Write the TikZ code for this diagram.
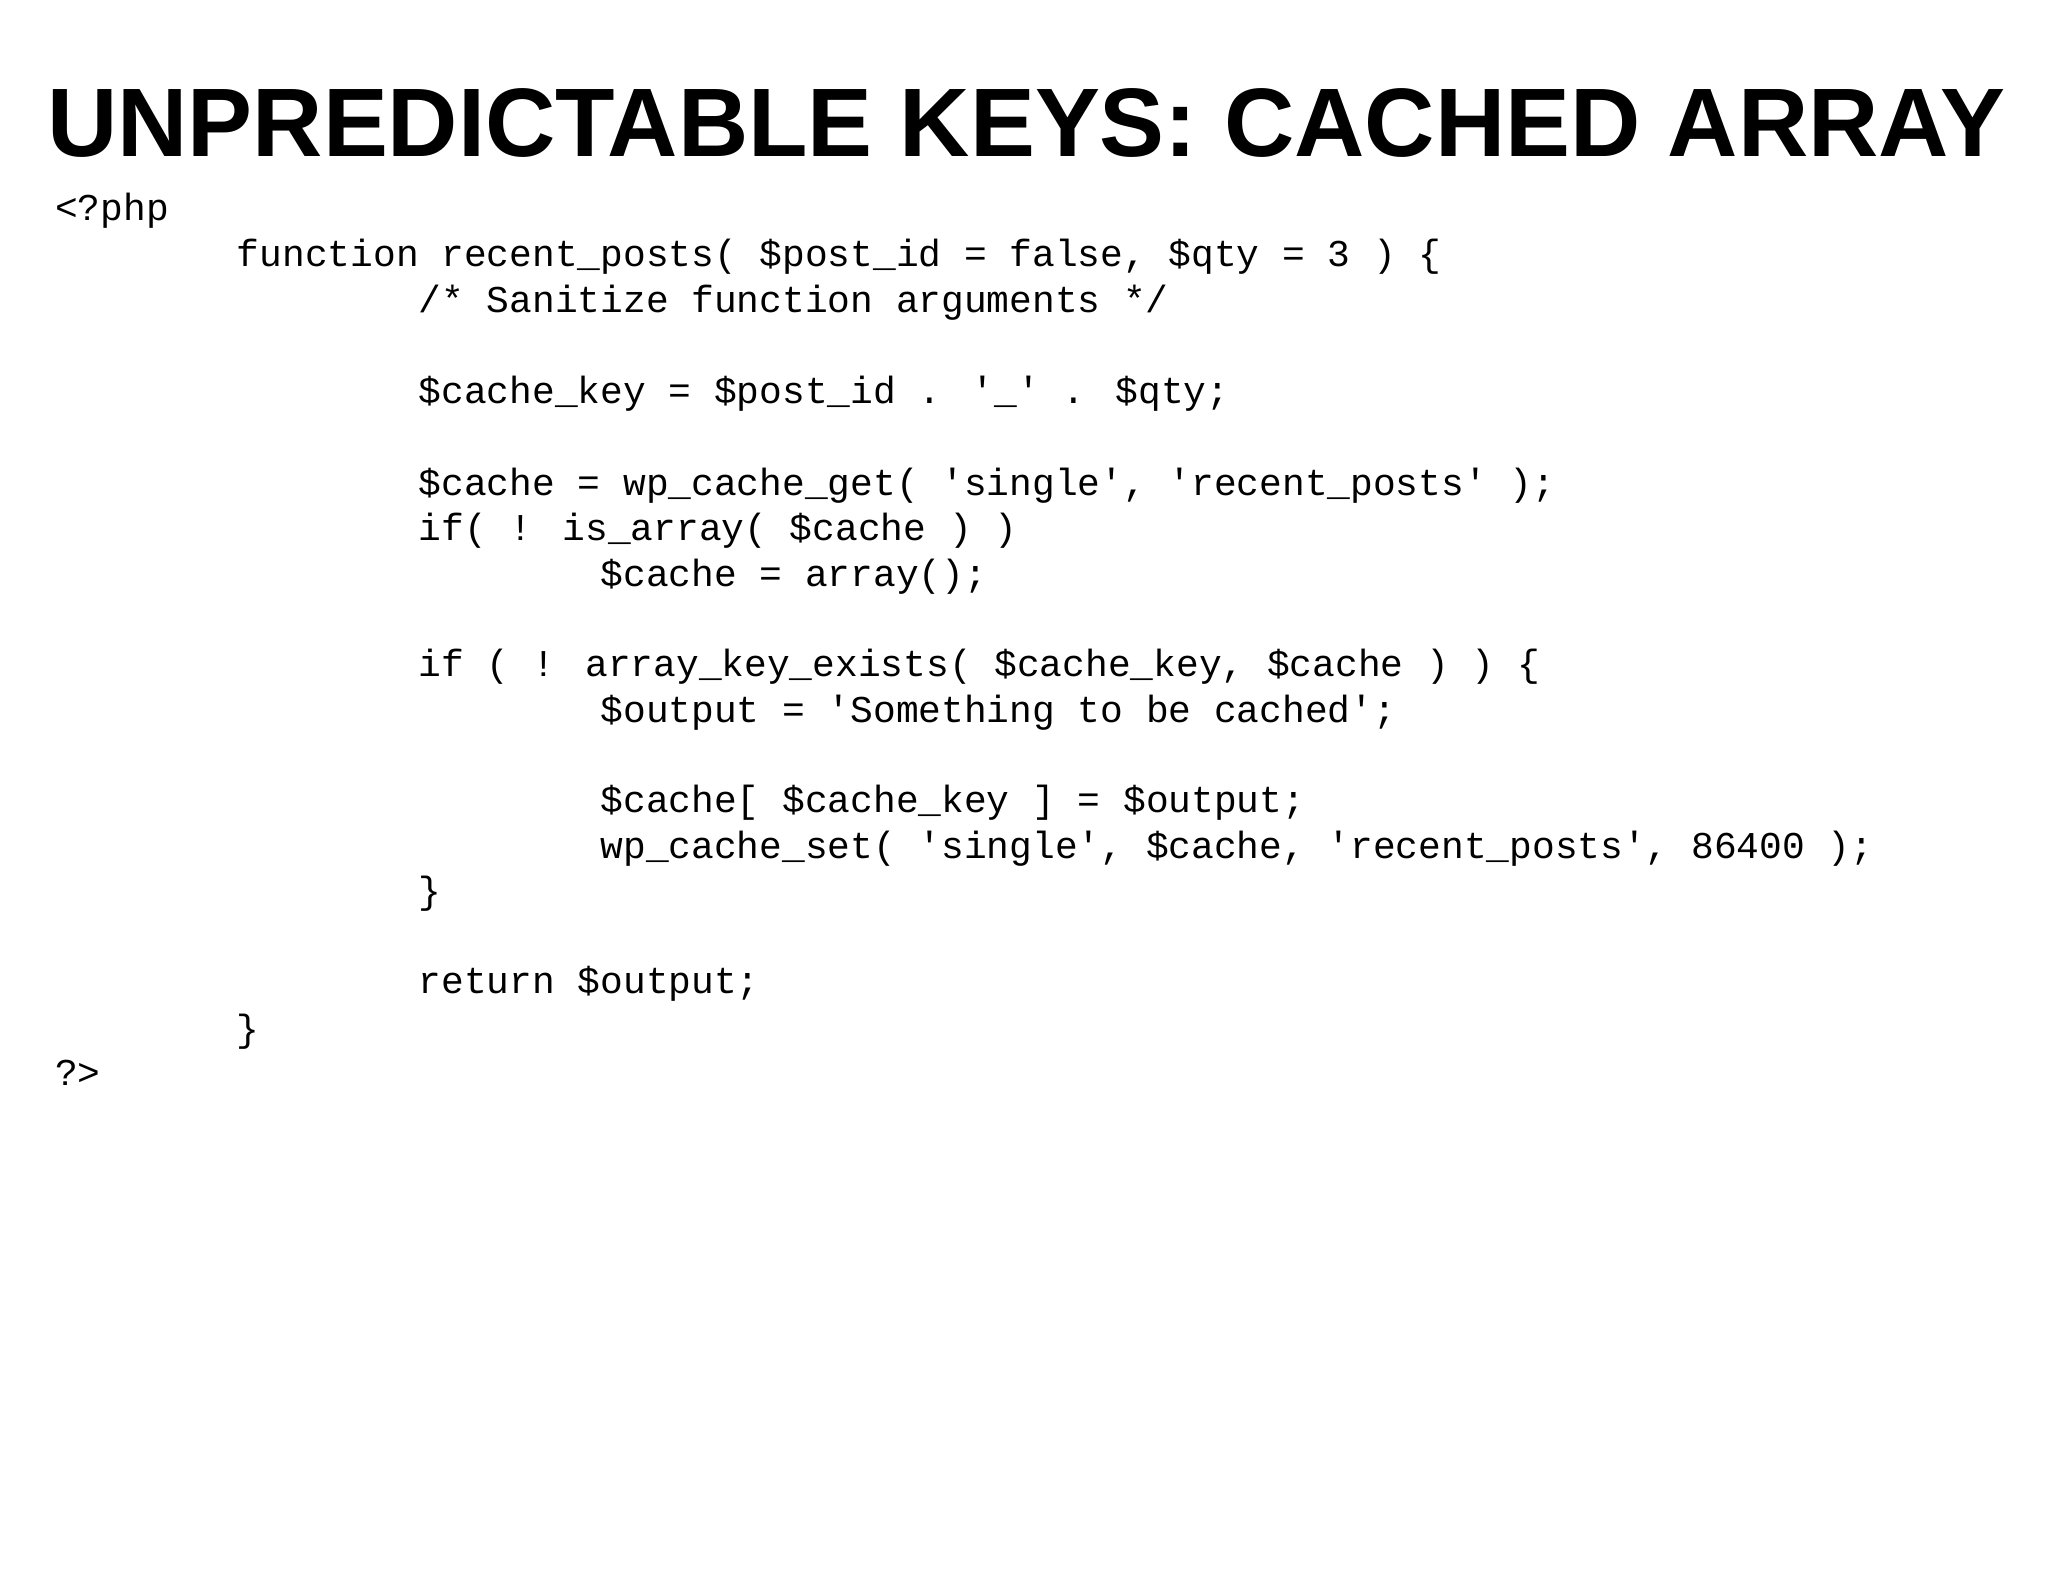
\documentclass[tikz,border=0pt]{standalone}
\usepackage{fontspec}
\setmainfont{Liberation Sans}
\newfontfamily\codefont{Liberation Mono}
\begin{document}
\begin{tikzpicture}[x=1pt,y=-1pt,
  codeline/.style={anchor=base west,inner sep=0pt,font=\codefont\fontsize{29}{29}\selectfont}]
\useasboundingbox[fill=white] (0,0) rectangle (1568,1211);
\node[anchor=base west,inner sep=0pt] (title) at (36,120) {\resizebox{1499pt}{!}{\bfseries\fontsize{81}{81}\selectfont UNPREDICTABLE KEYS: CACHED ARRAY}};
\def\t{139.2}
\node[codeline] (l1) at (42,169) {<?php};
\node[codeline] (l2) at (42+\t,204) {function recent\_posts( \$post\_id = false, \$qty = 3 ) \{};
\node[codeline] (l3) at (42+2*\t,239) {/* Sanitize function arguments */};
\node[codeline] (l5) at (42+2*\t,309) {\$cache\_key = \$post\_id . '\_' . \$qty;};
\node[codeline] (l7) at (42+2*\t,379) {\$cache = wp\_cache\_get( 'single', 'recent\_posts' );};
\node[codeline] (l8) at (42+2*\t,414) {if( ! is\_array( \$cache ) )};
\node[codeline] (l9) at (42+3*\t,449) {\$cache = array();};
\node[codeline] (l11) at (42+2*\t,518) {if ( ! array\_key\_exists( \$cache\_key, \$cache ) ) \{};
\node[codeline] (l12) at (42+3*\t,553) {\$output = 'Something to be cached';};
\node[codeline] (l14) at (42+3*\t,622) {\$cache[ \$cache\_key ] = \$output;};
\node[codeline] (l15) at (42+3*\t,657) {wp\_cache\_set( 'single', \$cache, 'recent\_posts', 86400 );};
\node[codeline] (l16) at (42+2*\t,692) {\}};
\node[codeline] (l18) at (42+2*\t,761) {return \$output;};
\node[codeline] (l19) at (42+\t,797) {\}};
\node[codeline] (l20) at (42,831) {?>};
\end{tikzpicture}
\end{document}
